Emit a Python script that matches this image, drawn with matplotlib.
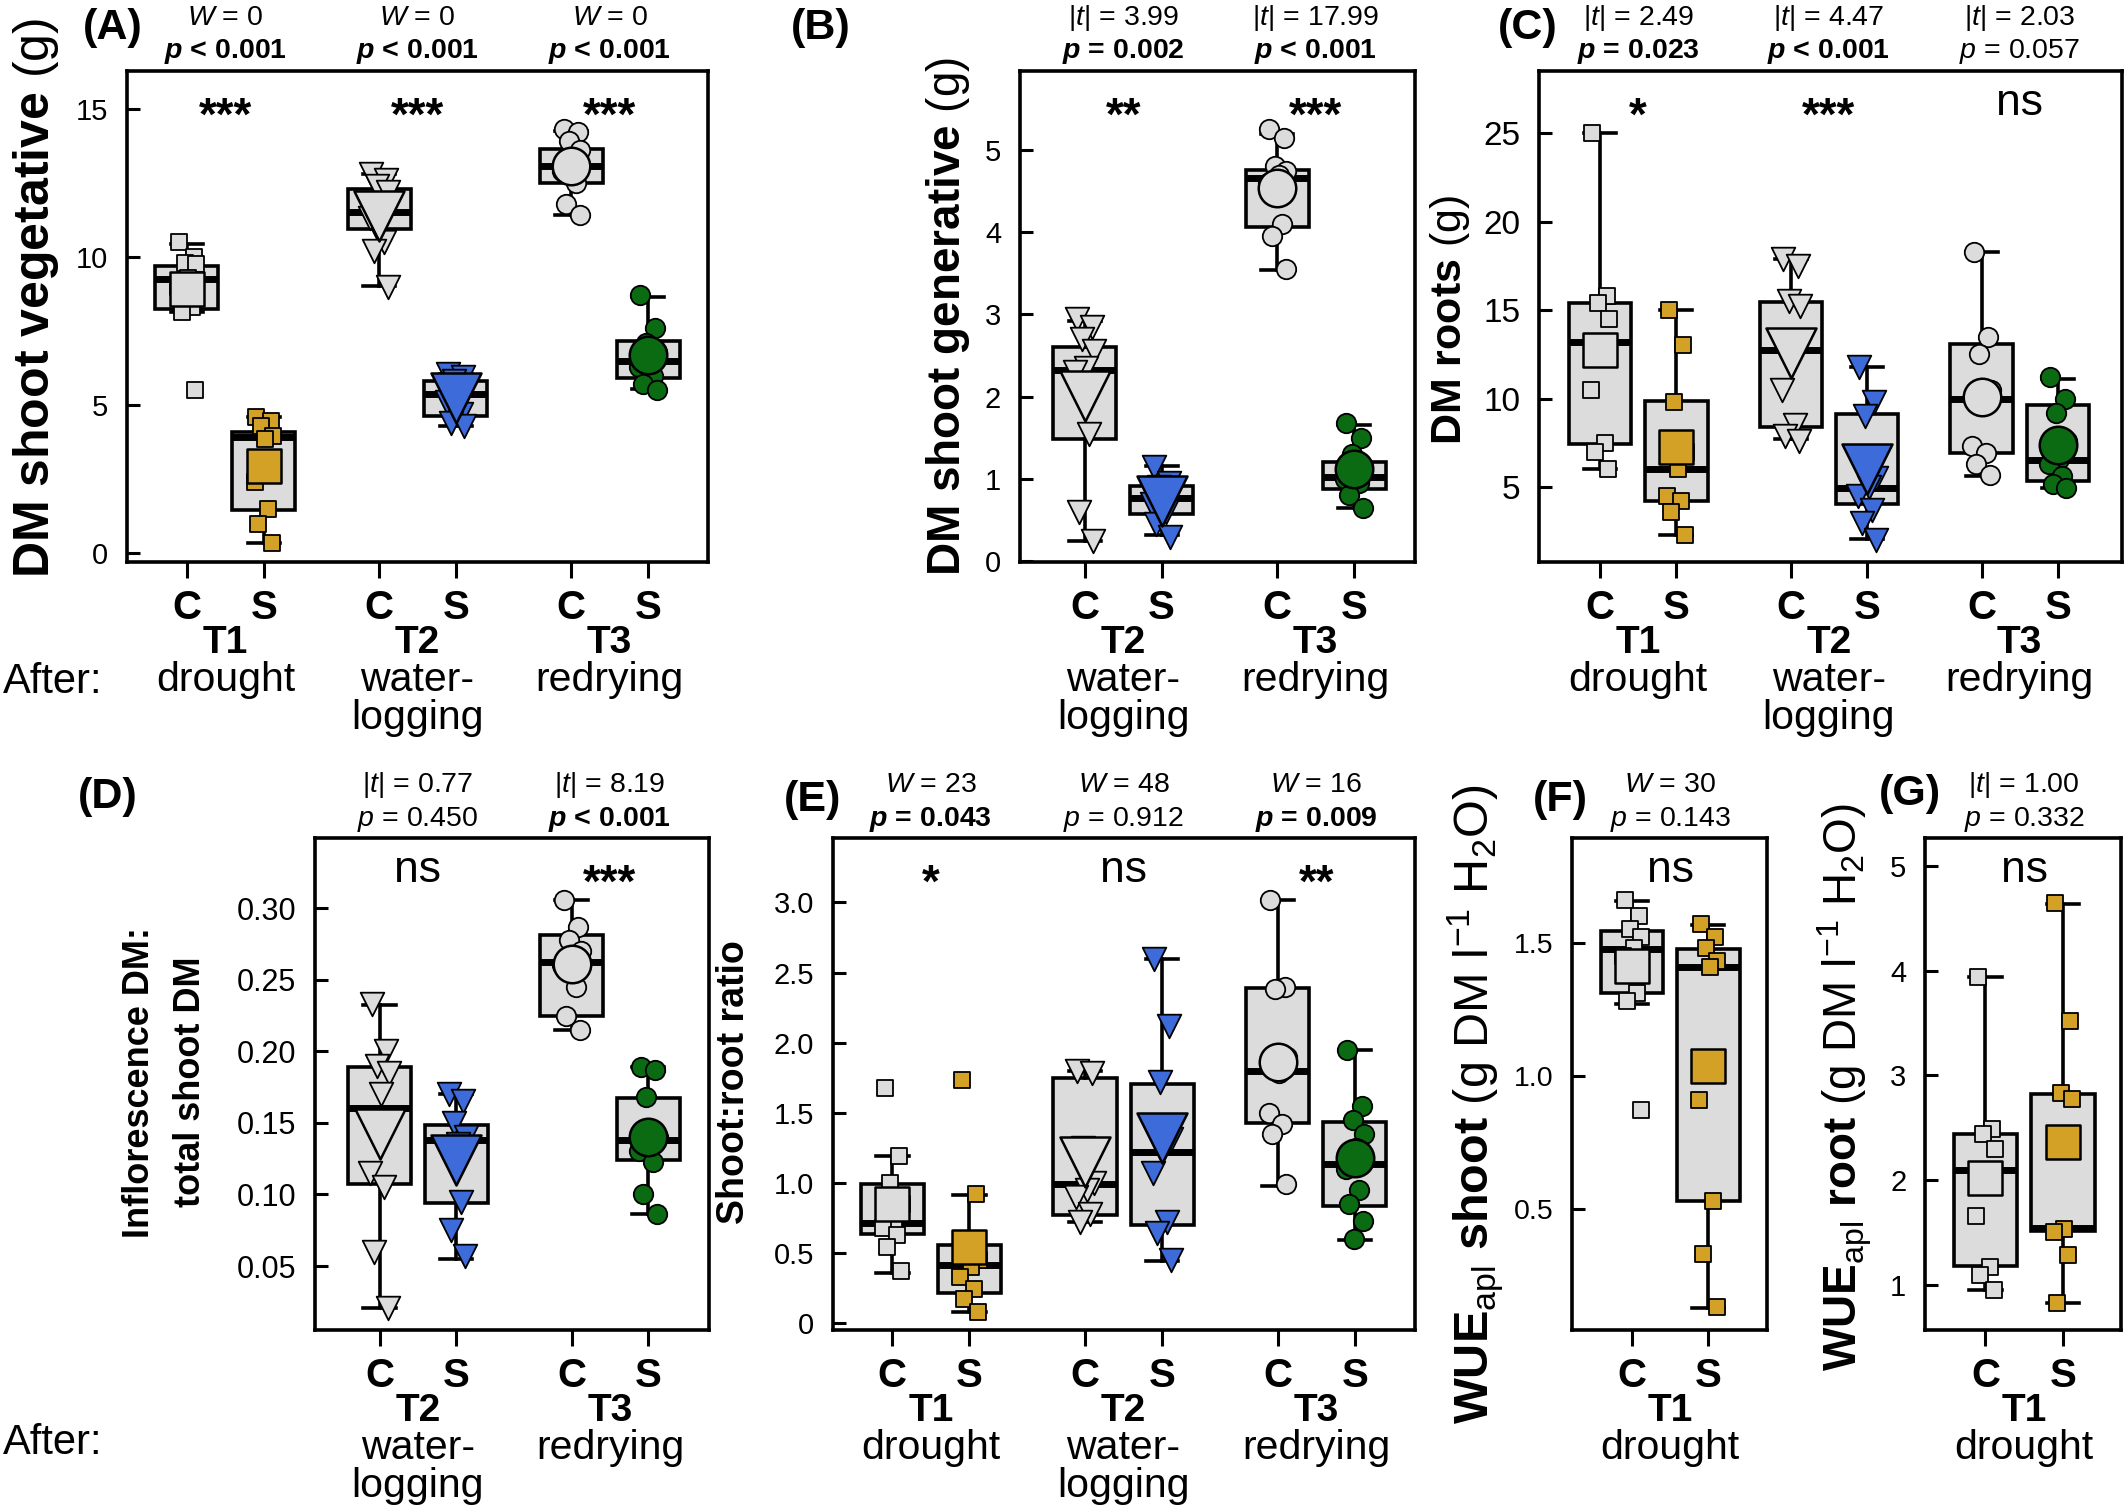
import numpy as np
import matplotlib.pyplot as plt

plt.rcParams['font.family'] = ['Liberation Sans', 'DejaVu Sans']
plt.rcParams['mathtext.fontset'] = 'custom'
plt.rcParams['mathtext.rm'] = 'Liberation Sans'
plt.rcParams['mathtext.it'] = 'Liberation Sans:italic'
plt.rcParams['mathtext.bf'] = 'Liberation Sans:bold'
plt.rcParams['mathtext.bfit'] = 'Liberation Sans:italic:bold'

# ---------------------------------------------------------------
# data
# boxes are [lower whisker, Q1, median, Q3, upper whisker]
# ---------------------------------------------------------------

# (A) DM shoot vegetative (g)
a_times = ['T1', 'T2', 'T3']
a_t1_c = [10.5, 10.0, 9.8, 9.75, 9.3, 9.0, 8.3, 8.15, 5.5]
a_t1_s = [4.6, 4.45, 4.3, 3.95, 3.85, 2.4, 1.5, 1.0, 0.35]
a_t2_c = [12.8, 12.6, 12.4, 12.2, 11.5, 11.3, 10.5, 10.2, 9.0]
a_t2_s = [6.05, 5.95, 5.8, 5.5, 5.3, 5.1, 4.7, 4.4, 4.3]
a_t3_c = [14.3, 14.2, 13.9, 13.6, 13.1, 12.9, 12.5, 11.8, 11.4]
a_t3_s = [8.7, 7.6, 7.1, 6.8, 6.5, 6.3, 6.0, 5.7, 5.5]
a_box_t1_c = [8.15, 8.23, 9.27, 9.7, 10.45]
a_box_t1_s = [0.35, 1.46, 3.93, 4.09, 4.6]
a_box_t2_c = [9.03, 10.94, 11.5, 12.29, 12.8]
a_box_t2_s = [4.3, 4.62, 5.37, 5.8, 6.05]
a_box_t3_c = [11.42, 12.48, 13.06, 13.65, 14.24]
a_box_t3_s = [5.53, 5.92, 6.48, 7.17, 8.66]
a_test = ['W', 'W', 'W']
a_value = ['0', '0', '0']
a_p = ['< 0.001', '< 0.001', '< 0.001']
a_sig = ['***', '***', '***']

# (B) DM shoot generative (g)
b_times = ['T2', 'T3']
b_t2_c = [2.95, 2.85, 2.7, 2.55, 2.35, 2.3, 1.55, 0.6, 0.25]
b_t2_s = [1.15, 0.95, 0.9, 0.8, 0.75, 0.7, 0.6, 0.45, 0.3]
b_t3_c = [5.25, 5.15, 4.8, 4.75, 4.7, 4.6, 4.1, 3.95, 3.55]
b_t3_s = [1.68, 1.5, 1.3, 1.15, 1.05, 1.0, 0.95, 0.8, 0.65]
b_box_t2_c = [0.24, 1.49, 2.32, 2.61, 2.92]
b_box_t2_s = [0.32, 0.57, 0.77, 0.92, 1.16]
b_box_t3_c = [3.54, 4.06, 4.66, 4.76, 5.19]
b_box_t3_s = [0.65, 0.88, 1.02, 1.2, 1.66]
b_test = ['|t|', '|t|']
b_value = ['3.99', '17.99']
b_p = ['= 0.002', '< 0.001']
b_sig = ['**', '***']

# (C) DM roots (g)
c_times = ['T1', 'T2', 'T3']
c_t1_c = [25.0, 15.8, 15.4, 14.5, 13.0, 10.5, 7.5, 7.0, 6.0]
c_t1_s = [15.0, 13.0, 9.8, 7.0, 6.0, 4.5, 4.2, 3.6, 2.3]
c_t2_c = [17.9, 17.5, 15.5, 15.2, 12.7, 10.5, 8.5, 7.9, 7.6]
c_t2_s = [11.8, 9.8, 9.0, 5.5, 5.0, 4.5, 3.7, 3.0, 2.0]
c_t3_c = [18.3, 13.5, 12.5, 10.5, 10.0, 7.3, 6.9, 6.3, 5.7]
c_t3_s = [11.2, 10.0, 9.2, 7.6, 6.6, 6.3, 5.6, 5.2, 4.95]
c_box_t1_c = [6.0, 7.42, 13.2, 15.39, 25.0]
c_box_t1_s = [2.28, 4.23, 6.0, 9.87, 15.0]
c_box_t2_c = [7.7, 8.41, 12.75, 15.47, 17.86]
c_box_t2_s = [2.07, 4.07, 4.95, 9.13, 11.8]
c_box_t3_c = [5.61, 6.94, 10.0, 13.07, 18.26]
c_box_t3_s = [4.95, 5.35, 6.54, 9.66, 11.12]
c_test = ['|t|', '|t|', '|t|']
c_value = ['2.49', '4.47', '2.03']
c_p = ['= 0.023', '< 0.001', '= 0.057']
c_sig = ['*', '***', 'ns']

# (D) inflorescence DM : total shoot DM
d_times = ['T2', 'T3']
d_t2_c = [0.233, 0.2, 0.19, 0.185, 0.17, 0.115, 0.105, 0.06, 0.021]
d_t2_s = [0.17, 0.165, 0.15, 0.14, 0.135, 0.13, 0.095, 0.075, 0.057]
d_t3_c = [0.306, 0.287, 0.278, 0.27, 0.265, 0.26, 0.245, 0.225, 0.215]
d_t3_s = [0.189, 0.187, 0.168, 0.14, 0.137, 0.13, 0.123, 0.1, 0.086]
d_box_t2_c = [0.0208, 0.1074, 0.1607, 0.1893, 0.2323]
d_box_t2_s = [0.055, 0.0937, 0.1377, 0.1487, 0.17]
d_box_t3_c = [0.215, 0.2247, 0.2625, 0.281, 0.306]
d_box_t3_s = [0.086, 0.124, 0.1377, 0.1676, 0.189]
d_test = ['|t|', '|t|']
d_value = ['0.77', '8.19']
d_p = ['= 0.450', '< 0.001']
d_sig = ['ns', '***']

# (E) shoot:root ratio
e_times = ['T1', 'T2', 'T3']
e_t1_c = [1.68, 1.19, 1.0, 0.85, 0.72, 0.68, 0.63, 0.54, 0.37]
e_t1_s = [1.73, 0.92, 0.56, 0.45, 0.4, 0.33, 0.24, 0.17, 0.08]
e_t2_c = [1.8, 1.78, 1.25, 1.0, 0.95, 0.9, 0.78, 0.72]
e_t2_s = [2.6, 2.12, 1.72, 1.31, 1.25, 1.07, 0.72, 0.64, 0.45]
e_t3_c = [3.02, 2.4, 2.38, 1.9, 1.78, 1.5, 1.42, 1.35, 0.99]
e_t3_s = [1.95, 1.55, 1.45, 1.35, 1.25, 1.1, 0.95, 0.85, 0.73, 0.6]
e_box_t1_c = [0.36, 0.633, 0.71, 0.995, 1.19]
e_box_t1_s = [0.08, 0.215, 0.415, 0.556, 0.91]
e_box_t2_c = [0.72, 0.767, 0.995, 1.75, 1.8]
e_box_t2_s = [0.443, 0.70, 1.22, 1.706, 2.6]
e_box_t3_c = [0.98, 1.425, 1.8, 2.39, 3.02]
e_box_t3_s = [0.59, 0.837, 1.136, 1.435, 1.945]
e_test = ['W', 'W', 'W']
e_value = ['23', '48', '16']
e_p = ['= 0.043', '= 0.912', '= 0.009']
e_sig = ['*', 'ns', '**']

# (F) WUE_apl shoot
f_times = ['T1']
f_t1_c = [1.66, 1.6, 1.55, 1.52, 1.48, 1.45, 1.31, 1.28, 0.87]
f_t1_s = [1.57, 1.52, 1.48, 1.43, 1.41, 0.91, 0.53, 0.33, 0.13]
f_box_t1_c = [1.268, 1.309, 1.476, 1.544, 1.657]
f_box_t1_s = [0.128, 0.528, 1.41, 1.476, 1.565]
f_test = ['W']
f_value = ['30']
f_p = ['= 0.143']
f_sig = ['ns']

# (G) WUE_apl root
g_times = ['T1']
g_t1_c = [3.94, 2.49, 2.44, 2.3, 2.1, 1.66, 1.17, 1.09, 0.95]
g_t1_s = [4.65, 3.52, 2.83, 2.77, 1.53, 1.5, 1.28, 0.82]
g_box_t1_c = [0.95, 1.175, 2.10, 2.44, 3.94]
g_box_t1_s = [0.82, 1.51, 1.54, 2.82, 4.64]
g_test = ['|t|']
g_value = ['1.00']
g_p = ['= 0.332']
g_sig = ['ns']

# ---------------------------------------------------------------
# style
# ---------------------------------------------------------------
GRAY = '#dcdcdc'
STRESS_COLOR = {'T1': '#d4a127', 'T2': '#3d6bd9', 'T3': '#0b6b12'}
MARKER = {'T1': 's', 'T2': 'v', 'T3': 'o'}
SMALL = {'s': 12, 'v': 17, 'o': 14}
BIG = {'s': 25, 'v': 36, 'o': 27}
COND = {'T1': ['drought'], 'T2': ['water-', 'logging'], 'T3': ['redrying']}
JIT = np.array([-0.10, 0.09, -0.03, 0.12, 0.02, -0.12, 0.06, -0.07, 0.11, -0.01])

W, H = 2128, 1511
fig = plt.figure(figsize=(W / 100, H / 100), dpi=100)


def add_axes(x0, x1, y0, y1):
    # pixel box -> figure fraction
    return fig.add_axes([x0 / W, 1 - y1 / H, (x1 - x0) / W, (y1 - y0) / H])


def off(ax, text, x, yax, dy, **kw):
    ax.annotate(text, (x, yax), xycoords=ax.get_xaxis_transform(),
                xytext=(0, dy), textcoords='offset pixels',
                ha='center', va='center', annotation_clip=False, **kw)


def panel(ax, times, pts, boxes, test, value, pval, sig,
          xlim, ylim, yticks, yticklabels, tick_size=21):
    pos = []
    for i in range(len(times)):
        pos += [1 + 2.5 * i, 2 + 2.5 * i]

    stats = [dict(whislo=b[0], q1=b[1], med=b[2], q3=b[3], whishi=b[4]) for b in boxes]
    ax.bxp(stats, positions=pos, widths=0.82, capwidths=0.42, showfliers=False,
           patch_artist=True, manage_ticks=False,
           boxprops=dict(facecolor=GRAY, edgecolor='black', linewidth=2.6),
           medianprops=dict(color='black', linewidth=5, solid_capstyle='butt'),
           whiskerprops=dict(color='black', linewidth=2.6),
           capprops=dict(color='black', linewidth=2.6))

    for k, (p, y) in enumerate(zip(pos, pts)):
        t = times[k // 2]
        m = MARKER[t]
        col = GRAY if k % 2 == 0 else STRESS_COLOR[t]
        y = np.asarray(y, dtype=float)
        ax.scatter(p + JIT[:len(y)], y, s=SMALL[m] ** 2, marker=m, facecolor=col,
                   edgecolor='black', linewidth=1.3, zorder=3)
        ax.scatter([p], [y.mean()], s=BIG[m] ** 2, marker=m, facecolor=col,
                   edgecolor='black', linewidth=1.8, zorder=4)

    ax.set_xlim(*xlim)
    ax.set_ylim(*ylim)
    ax.set_xticks(pos)
    ax.set_xticklabels([])
    ax.set_yticks(yticks)
    ax.set_yticklabels(yticklabels)
    ax.tick_params(axis='y', direction='in', length=9.5, width=2.2,
                   labelsize=tick_size, pad=13.5)
    ax.tick_params(axis='x', direction='out', length=11.5, width=2.2)
    for sp in ax.spines.values():
        sp.set_linewidth(2.6)

    for i, t in enumerate(times):
        c, s = pos[2 * i], pos[2 * i + 1]
        mid = (c + s) / 2
        off(ax, 'C', c, 0, -46, fontsize=29, fontweight='bold')
        off(ax, 'S', s, 0, -46, fontsize=29, fontweight='bold')
        off(ax, t, mid, 0, -81, fontsize=28, fontweight='bold')
        for j, line in enumerate(COND[t]):
            off(ax, line, mid, 0, -118 - 38 * j, fontsize=29.5)

        name = r'$\mathit{W}$' if test[i] == 'W' else r'|$\mathit{t}$|'
        off(ax, name + ' = ' + value[i], mid, 1, 53, fontsize=20.5)
        if sig[i] != 'ns':
            off(ax, r'$\mathbfit{p}$ ' + pval[i], mid, 1, 19, fontsize=20.5, fontweight='bold')
            off(ax, sig[i], mid, 1, -47, fontsize=33, fontweight='bold')
        else:
            off(ax, r'$\mathit{p}$ ' + pval[i], mid, 1, 19, fontsize=20.5)
            off(ax, 'ns', mid, 1, -33, fontsize=32)


def ylab(x, yc, text, size, **kw):
    fig.text(x / W, 1 - yc / H, text, rotation=90, ha='center', va='center',
             fontsize=size, **kw)


def letter(x, y, text):
    fig.text(x / W, 1 - y / H, text, ha='center', va='center', fontsize=31, fontweight='bold')


# ---- row 1 ----
axA = add_axes(127, 708, 71, 562)
panel(axA, a_times,
      [a_t1_c, a_t1_s, a_t2_c, a_t2_s, a_t3_c, a_t3_s],
      [a_box_t1_c, a_box_t1_s, a_box_t2_c, a_box_t2_s, a_box_t3_c, a_box_t3_s],
      a_test, a_value, a_p, a_sig,
      (0.22, 7.78), (-0.29, 16.27), [0, 5, 10, 15], ['0', '5', '10', '15'], 21)

axB = add_axes(1020, 1415, 71, 562)
panel(axB, b_times,
      [b_t2_c, b_t2_s, b_t3_c, b_t3_s],
      [b_box_t2_c, b_box_t2_s, b_box_t3_c, b_box_t3_s],
      b_test, b_value, b_p, b_sig,
      (0.16, 5.29), (-0.01, 5.96), [0, 1, 2, 3, 4, 5], ['0', '1', '2', '3', '4', '5'], 21)

axC = add_axes(1539, 2122, 71, 562)
panel(axC, c_times,
      [c_t1_c, c_t1_s, c_t2_c, c_t2_s, c_t3_c, c_t3_s],
      [c_box_t1_c, c_box_t1_s, c_box_t2_c, c_box_t2_s, c_box_t3_c, c_box_t3_s],
      c_test, c_value, c_p, c_sig,
      (0.2, 7.84), (0.77, 28.5), [5, 10, 15, 20, 25], ['5', '10', '15', '20', '25'], 24)

# ---- row 2 ----
axD = add_axes(315, 709, 838, 1330)
panel(axD, d_times,
      [d_t2_c, d_t2_s, d_t3_c, d_t3_s],
      [d_box_t2_c, d_box_t2_s, d_box_t3_c, d_box_t3_s],
      d_test, d_value, d_p, d_sig,
      (0.16, 5.29), (0.0053, 0.349), [0.05, 0.10, 0.15, 0.20, 0.25, 0.30],
      ['0.05', '0.10', '0.15', '0.20', '0.25', '0.30'], 22)

axE = add_axes(833, 1415, 838, 1330)
panel(axE, e_times,
      [e_t1_c, e_t1_s, e_t2_c, e_t2_s, e_t3_c, e_t3_s],
      [e_box_t1_c, e_box_t1_s, e_box_t2_c, e_box_t2_s, e_box_t3_c, e_box_t3_s],
      e_test, e_value, e_p, e_sig,
      (0.23, 7.78), (-0.05, 3.46), [0, 0.5, 1.0, 1.5, 2.0, 2.5, 3.0],
      ['0', '0.5', '1.0', '1.5', '2.0', '2.5', '3.0'], 21)

axF = add_axes(1572, 1767, 838, 1330)
panel(axF, f_times, [f_t1_c, f_t1_s], [f_box_t1_c, f_box_t1_s],
      f_test, f_value, f_p, f_sig,
      (0.21, 2.77), (0.044, 1.893), [0.5, 1.0, 1.5], ['0.5', '1.0', '1.5'], 20.5)

axG = add_axes(1925, 2121, 838, 1330)
panel(axG, g_times, [g_t1_c, g_t1_s], [g_box_t1_c, g_box_t1_s],
      g_test, g_value, g_p, g_sig,
      (0.22, 2.75), (0.566, 5.27), [1, 2, 3, 4, 5], ['1', '2', '3', '4', '5'], 21)

# ---- labels ----
ylab(36, 298, r'$\mathbf{DM\ shoot\ vegetative}$ (g)', 36)
ylab(948, 316, r'$\mathbf{DM\ shoot\ generative}$ (g)', 33)
ylab(1450, 320, r'$\mathbf{DM\ roots}$ (g)', 31)
fig.text(165 / W, 1 - 1082 / H, 'Inflorescence DM:\ntotal shoot DM', rotation=90,
         ha='center', va='center', fontsize=26, fontweight='bold',
         multialignment='center', linespacing=1.6)
ylab(734, 1082, 'Shoot:root ratio', 27, fontweight='bold')
ylab(1476, 1104, r'$\mathbf{WUE}_{\mathrm{apl}}$ $\mathbf{shoot}$ (g DM l$^{-1}$ H$_{2}$O)', 35)
ylab(1845, 1087, r'$\mathbf{WUE}_{\mathrm{apl}}$ $\mathbf{root}$ (g DM l$^{-1}$ H$_{2}$O)', 33)

for x, y, t in [(113, 28, '(A)'), (821, 28, '(B)'), (1528, 28, '(C)'),
                (108, 797, '(D)'), (813, 800, '(E)'), (1560, 800, '(F)'),
                (1910, 794, '(G)')]:
    letter(x, y, t)

fig.text(3 / W, 1 - 682 / H, 'After:', ha='left', va='center', fontsize=30)
fig.text(3 / W, 1 - 1443 / H, 'After:', ha='left', va='center', fontsize=30)

fig.savefig('out.png', dpi=100)
